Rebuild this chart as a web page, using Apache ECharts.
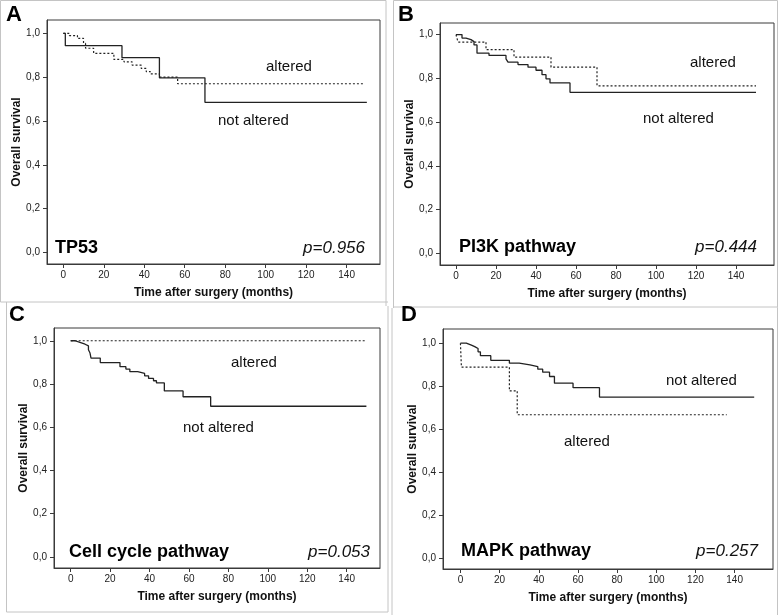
<!DOCTYPE html>
<html>
<head>
<meta charset="utf-8">
<script src="https://cdn.jsdelivr.net/npm/echarts@6/dist/echarts.min.js"></script>
<style>
html,body{margin:0;padding:0;background:#fff;}
#c{width:778px;height:615px;}
</style>
</head>
<body>
<div id="c"></div>
<script>
// ---- Data (months, survival proportion) ----
const xTicks = [0, 20, 40, 60, 80, 100, 120, 140];
const yTicks = [0, 0.2, 0.4, 0.6, 0.8, 1.0];

// Panel A: TP53
const aNotTime = [0, 1, 29, 47.5, 70, 150];
const aNotSurv = [1.0, 0.944, 0.889, 0.797, 0.685, 0.685];
const aAltTime = [0, 3, 7, 10, 11, 15, 25, 30, 34, 38.5, 41, 43, 47.5, 56.5, 149];
const aAltSurv = [1.0, 0.99, 0.977, 0.954, 0.932, 0.909, 0.881, 0.870, 0.855, 0.840, 0.825, 0.815, 0.800, 0.770, 0.770];

// Panel B: PI3K pathway
const bNotTime = [0, 3, 5, 7.5, 9, 10.5, 16.5, 25, 26, 31, 36, 40, 43, 45, 47, 57, 150];
const bNotSurv = [1.0, 0.984, 0.977, 0.968, 0.953, 0.915, 0.905, 0.889, 0.874, 0.863, 0.851, 0.837, 0.817, 0.798, 0.779, 0.736, 0.736];
const bAltTime = [0, 1, 15, 29, 47.5, 70.5, 150];
const bAltSurv = [1.0, 0.966, 0.931, 0.897, 0.851, 0.766, 0.766];

// Panel C: Cell cycle pathway
const cNotTime = [0, 2.2, 4.7, 7.3, 9, 9.8, 10.3, 15, 25, 28, 30, 34, 37.5, 39.5, 42, 43.5, 47.5, 57, 71, 150];
const cNotSurv = [1.0, 0.992, 0.984, 0.976, 0.958, 0.943, 0.920, 0.899, 0.880, 0.869, 0.857, 0.849, 0.838, 0.826, 0.815, 0.805, 0.768, 0.741, 0.697, 0.697];
const cAltTime = [0, 150];
const cAltSurv = [1.0, 1.0];

// Panel D: MAPK pathway
const dNotTime = [0, 3, 5.6, 7.3, 9, 10.2, 15.5, 25, 30, 35.5, 39.5, 42, 45.5, 48, 57.5, 71, 150];
const dNotSurv = [1.0, 0.991, 0.984, 0.975, 0.960, 0.942, 0.920, 0.907, 0.899, 0.891, 0.879, 0.865, 0.845, 0.814, 0.793, 0.749, 0.749];
const dAltTime = [0, 0.5, 25, 29, 136];
const dAltSurv = [1.0, 0.889, 0.778, 0.667, 0.667];

const panelLetters = ['A', 'B', 'C', 'D'];
const panelTitles = ['TP53', 'PI3K pathway', 'Cell cycle pathway', 'MAPK pathway'];
const pValues = ['p=0.956', 'p=0.444', 'p=0.053', 'p=0.257'];
const xName = 'Time after surgery (months)';
const yName = 'Overall survival';

// ---- Layout ----
const FONT = "'Liberation Sans', Arial, sans-serif";
const grids = [
  {left: 47, top: 20, width: 333, height: 244},
  {left: 440, top: 23, width: 334, height: 242},
  {left: 54, top: 328, width: 326, height: 240},
  {left: 443, top: 329, width: 330, height: 240}
];
const xRanges = [[-8.05, 156.5], [-8, 159], [-8.47, 156.9], [-8.9, 159.6]];
const yRanges = [[-0.053, 1.061], [-0.053, 1.053], [-0.051, 1.059], [-0.051, 1.066]];

function pairs(t, s) { return t.map((v, i) => [v, s[i]]); }
const fmtY = v => v.toFixed(1).replace('.', ',');

const option = {
  backgroundColor: '#fff',
  animation: false,
  grid: grids.map(g => Object.assign({show: true, borderColor: '#3a3a3a', borderWidth: 1, containLabel: false}, g)),
  xAxis: grids.map((g, i) => ({
    type: 'value', gridIndex: i, min: xRanges[i][0], max: xRanges[i][1],
    axisLine: {show: true, onZero: false, lineStyle: {color: '#3a3a3a', width: 1}},
    axisTick: {show: true, length: 4, customValues: xTicks, lineStyle: {color: '#3a3a3a'}},
    axisLabel: {customValues: xTicks, margin: 6, fontSize: 10, color: '#222', fontFamily: FONT},
    splitLine: {show: false},
    name: xName, nameLocation: 'middle', nameGap: 23,
    nameTextStyle: {fontSize: 12, fontWeight: 'bold', color: '#111', fontFamily: FONT}
  })),
  yAxis: grids.map((g, i) => ({
    type: 'value', gridIndex: i, min: yRanges[i][0], max: yRanges[i][1],
    axisLine: {show: true, onZero: false, lineStyle: {color: '#3a3a3a', width: 1}},
    axisTick: {show: true, length: 4, customValues: yTicks, lineStyle: {color: '#3a3a3a'}},
    axisLabel: {customValues: yTicks, margin: 7, fontSize: 10, color: '#222', fontFamily: FONT, formatter: fmtY},
    splitLine: {show: false},
    name: yName, nameLocation: 'middle', nameGap: 24,
    nameTextStyle: {fontSize: 12, fontWeight: 'bold', color: '#111', fontFamily: FONT}
  })),
  series: [
    [aNotTime, aNotSurv, aAltTime, aAltSurv],
    [bNotTime, bNotSurv, bAltTime, bAltSurv],
    [cNotTime, cNotSurv, cAltTime, cAltSurv],
    [dNotTime, dNotSurv, dAltTime, dAltSurv]
  ].flatMap((p, i) => [
    {type: 'line', name: 'not altered', xAxisIndex: i, yAxisIndex: i, step: 'end', showSymbol: false, silent: true,
     data: pairs(p[0], p[1]), lineStyle: {color: '#222', width: 1.3, type: 'solid'}},
    {type: 'line', name: 'altered', xAxisIndex: i, yAxisIndex: i, step: 'end', showSymbol: false, silent: true,
     data: pairs(p[2], p[3]), lineStyle: {color: '#222', width: 1.2, type: [2, 2]}}
  ]),
  graphic: []
};

function txt(text, x, y, size, opts) {
  return Object.assign({
    type: 'text', x: x, y: y, silent: true,
    style: Object.assign({text: text, fontSize: size, fontFamily: FONT, fill: '#111',
      textAlign: 'left', textVerticalAlign: 'middle'}, opts || {})
  });
}
const G = option.graphic;
// panel frames (light gray)
const frameStyle = {stroke: '#c4c4c4', lineWidth: 1};
function ln(x1, y1, x2, y2) { return {type: 'line', silent: true, shape: {x1, y1, x2, y2}, style: frameStyle}; }
G.push(ln(0.5, 0.5, 0.5, 302), ln(0.5, 0.5, 386, 0.5), ln(386, 0.5, 386, 306));
G.push(ln(0.5, 302, 388, 302));
G.push(ln(6.5, 302, 6.5, 612), ln(6.5, 612, 388, 612), ln(388, 306, 388, 612));
G.push(ln(393.5, 0.5, 393.5, 308), ln(393.5, 0.5, 777.5, 0.5), ln(777.5, 0.5, 777.5, 615));
G.push(ln(393.5, 307, 777.5, 307));
G.push(ln(392, 308, 392, 615));

// panel letters
G.push(txt(panelLetters[0], 6, 15, 22, {fontWeight: 'bold', fill: '#000'}));
G.push(txt(panelLetters[1], 398, 15, 22, {fontWeight: 'bold', fill: '#000'}));
G.push(txt(panelLetters[2], 9, 314.5, 22, {fontWeight: 'bold', fill: '#000'}));
G.push(txt(panelLetters[3], 401, 314.5, 22, {fontWeight: 'bold', fill: '#000'}));

// panel titles and p values
G.push(txt(panelTitles[0], 55, 248, 18, {fontWeight: 'bold', fill: '#000'}));
G.push(txt(panelTitles[1], 459, 247.5, 18, {fontWeight: 'bold', fill: '#000'}));
G.push(txt(panelTitles[2], 69, 552, 18, {fontWeight: 'bold', fill: '#000'}));
G.push(txt(panelTitles[3], 461, 551, 18, {fontWeight: 'bold', fill: '#000'}));
G.push(txt(pValues[0], 365, 248, 17, {fontStyle: 'italic', textAlign: 'right'}));
G.push(txt(pValues[1], 757, 247.5, 17, {fontStyle: 'italic', textAlign: 'right'}));
G.push(txt(pValues[2], 370, 552, 17, {fontStyle: 'italic', textAlign: 'right'}));
G.push(txt(pValues[3], 758, 551, 17, {fontStyle: 'italic', textAlign: 'right'}));

// curve labels
G.push(txt('altered', 266, 67, 15));
G.push(txt('not altered', 218, 121, 15));
G.push(txt('altered', 690, 63, 15));
G.push(txt('not altered', 643, 118.5, 15));
G.push(txt('altered', 231, 363, 15));
G.push(txt('not altered', 183, 427.5, 15));
G.push(txt('not altered', 666, 381, 15));
G.push(txt('altered', 564, 442, 15));

const chart = echarts.init(document.getElementById('c'), null, {renderer: 'canvas'});
chart.setOption(option);
</script>
</body>
</html>
